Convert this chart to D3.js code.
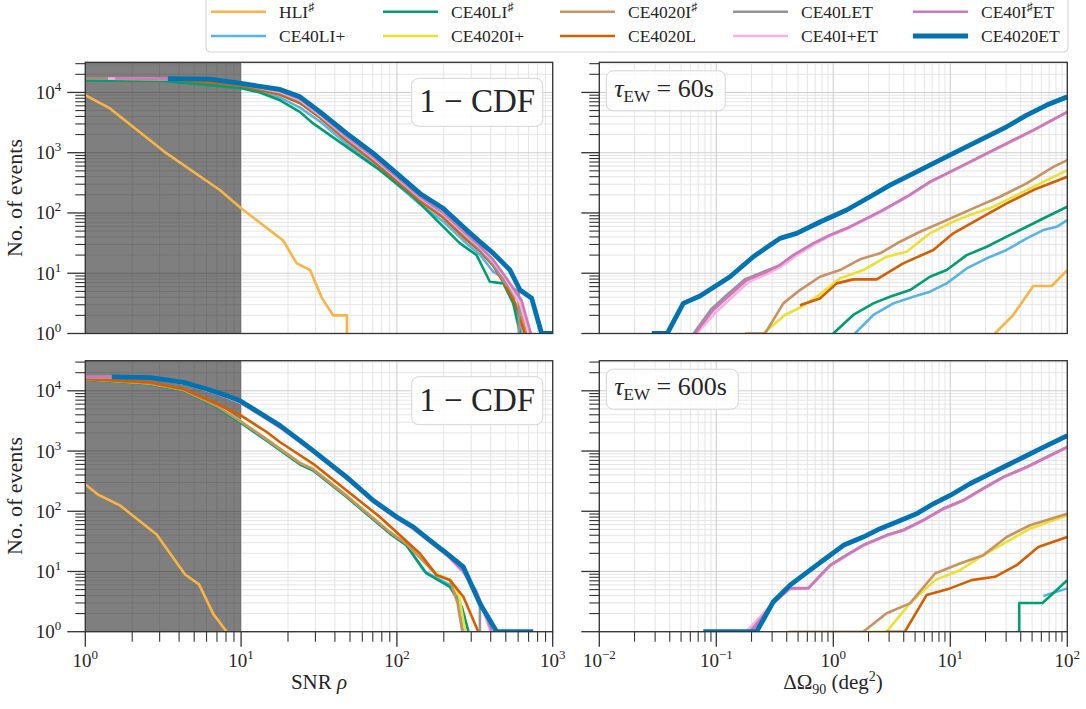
<!DOCTYPE html>
<html><head><meta charset="utf-8">
<script src="https://cdn.jsdelivr.net/npm/d3@7"></script>
<style>
body{margin:0;background:#fff}
svg{display:block}
text{font-family:"Liberation Serif","Times New Roman",serif;fill:#262626}
</style>
</head><body>
<svg id="c" width="1086" height="709"></svg>
<script>
// ---------------- series ----------------
const seriesNames = ["HLI♯","CE40LI+","CE40LI♯","CE4020I+","CE4020I♯","CE4020L","CE40LET","CE40I+ET","CE40I♯ET","CE4020ET"];
const seriesColors = ["#f9b444","#56b4e9","#029e73","#ece133","#ca9161","#d55e00","#949494","#fbafe4","#cc78bc","#0173b2"];
const seriesWidths = [2.6,2.6,2.6,2.6,2.6,2.6,2.6,2.6,2.6,4.8];

// ---------------- tick labels ----------------
const snrTickExps = [0,1,2,3];
const areaTickExps = [-2,-1,0,1,2];
const countTickExps = [0,1,2,3,4];

// ---------------- top-left: 1-CDF vs SNR (tau=60s) ----------------
const tlHLI   = [[1,9000],[1.44,5430],[3.33,973],[7.3,240],[10,120],[18.6,35],[22.7,14.7],[27.7,11.3],[33,3.9],[39,2],[47.8,2],[47.8,1]];
const tlLIp   = [[1,16500],[6.31,15500],[10,12300],[17.8,8200],[23.9,5600],[32.1,3300],[47.6,1400],[70.6,640],[99.8,300],[140.6,140],[198.6,72],[280.5,31],[341,20.5],[416,10.5],[501,8],[560,4],[630,1]];
const tlLIs   = [[1,15850],[3.16,15500],[6.31,13200],[10,11750],[13.2,10000],[17.8,7410],[23.8,4760],[29,3060],[47.6,1250],[77.8,514],[127.6,186],[179.9,76.2],[254,31.3],[325,20],[395,7.23],[482,6.79],[558,3.16],[617,1]];
const tl20Ip  = [[1,17000],[6.31,16200],[10,13300],[17.8,9600],[23.9,7000],[32.1,4000],[47.6,1680],[70.6,770],[99.8,360],[140.6,168],[198.6,90],[280.5,39],[341,25],[416,14.8],[501,8],[630,3],[716,1]];
const tl20Is  = [[1,17000],[6.31,16200],[10,13200],[17.8,9500],[23.9,6900],[32.1,3950],[47.6,1650],[70.6,760],[99.8,355],[140.6,165],[198.6,88],[280.5,38],[341,24.5],[416,14.5],[501,7.5],[600,3.5],[676,1]];
const tl20L   = [[1,17000],[3.16,16600],[6.31,14800],[10,12900],[17.8,9120],[23.9,6610],[32.1,3800],[47.6,1580],[70.6,724],[99.8,339],[140.6,158],[198.6,83.2],[280.5,35.5],[341,23.4],[416,13.2],[501,6.03],[575,3.16],[661,1]];
const tlLET   = [[1,17000],[6.31,16400],[10,13500],[17.8,9900],[23.9,7200],[32.1,4050],[47.6,1720],[70.6,790],[99.8,370],[140.6,172],[198.6,92],[280.5,40],[341,25],[416,14],[501,6.5],[607,5],[607,1]];
const tlIpET  = [[1.4,17000],[6.31,16500],[10,13800],[17.8,10200],[23.9,7500],[32.1,4200],[47.6,1800],[70.6,820],[99.8,385],[140.6,180],[198.6,96],[280.5,42],[341,27],[416,15.5],[501,8],[617,3.2],[708,1]];
const tlIsET  = [[1.55,17000],[6.31,16600],[10,14100],[17.8,10500],[23.9,7760],[32.1,4370],[47.6,1860],[70.6,851],[99.8,398],[140.6,186],[198.6,100],[280.5,43.7],[341,28.2],[416,16.6],[501,8.51],[631,3.55],[724,1]];
const tl20ET  = [[3.39,17000],[6.31,16600],[10,14100],[13.2,12600],[17.8,11200],[23.9,8450],[32.1,4760],[47.6,2090],[70.6,973],[99.8,454],[140.6,211],[198.6,119],[280.5,52],[341,33.3],[416,21.4],[532,11.3],[617,5.26],[733,3.84],[849,1],[1000,1]];

// ---------------- top-right: events vs sky area (tau=60s) ----------------
const trHLI   = [[24.1,1],[34.5,2.03],[51.2,6.14],[73.5,6.14],[100,11.3]];
const trLIp   = [[1.53,1],[2.2,2.03],[3.26,3.16],[4.83,4.07],[6.7,4.94],[9.31,6.79],[13.8,12],[20.5,17.7],[30.3,24.3],[45,37.9],[62.4,52],[81.1,59],[100,76.2]];
const trLIs   = [[1,1],[1.48,2.03],[2.2,3.16],[3.05,4.07],[4.53,5.26],[6.7,8.75],[9.31,11.3],[13.8,20],[20.5,27.5],[30.3,40.4],[45,59],[66.7,86.5],[100,127]];
const tr20Ip  = [[0.252,1],[0.386,2.03],[0.537,2.78],[0.769,4.47],[1.14,8.22],[1.81,11.3],[2.86,18.8],[4.24,22.8],[6.7,45.9],[10.6,71.8],[14.7,92.3],[23.3,127],[39.4,211],[62.4,329],[100,514]];
const tr20Is  = [[0.176,1],[0.261,1],[0.374,3.16],[0.519,5.26],[0.769,8.75],[1.14,11.3],[1.69,17],[2.51,21.4],[3.72,33.3],[5.51,48.8],[9.31,76.2],[15.7,119],[26.6,186],[45,309],[76,583],[100,753]];
const tr20L   = [[0.519,2.95],[0.769,3.8],[1.07,6.79],[1.48,7.91],[2.35,7.91],[3.96,14.6],[7.16,24.3],[10.6,45.9],[17.9,81.3],[30.3,144],[51.2,240],[100,398]];
const trLET   = [[0.064,1],[0.09,2.5],[0.125,4.5],[0.175,7.9],[0.26,10.8],[0.35,13.5],[0.455,19.8],[0.675,31],[0.938,42.5],[1.3,55],[2.51,104],[4.24,184],[6.7,326],[12.1,578],[20.5,965],[32.4,1510],[51.2,2350],[100,4730]];
const trIpET  = [[0.068,1],[0.1,2.3],[0.14,4.2],[0.19,7.2],[0.28,10],[0.36,13],[0.47,19],[0.69,30],[0.95,42],[1.3,54],[2.51,102],[4.24,182],[6.7,322],[12.1,570],[20.5,955],[32.4,1490],[51.2,2330],[100,4700]];
const trIsET  = [[0.0658,1],[0.0942,2.45],[0.131,4.36],[0.182,7.71],[0.27,10.6],[0.35,13.7],[0.455,20],[0.675,31.3],[0.938,43.1],[1.3,55.6],[2.51,105],[4.24,186],[6.7,329],[12.1,583],[20.5,973],[32.4,1520],[51.2,2370],[100,4760]];
const tr20ET  = [[0.0281,1],[0.0381,1],[0.0522,3.16],[0.0726,4.19],[0.131,8.75],[0.207,18.8],[0.35,37.9],[0.486,45.9],[0.769,70.8],[1.3,112],[2.06,186],[3.05,290],[4.53,425],[7.16,664],[10.6,973],[17.9,1620],[30.3,2690],[45,4210],[66.7,6170],[100,8450]];

// ---------------- bottom-left: 1-CDF vs SNR (tau=600s) ----------------
const blHLI   = [[1,279],[1.21,188],[1.67,125],[2.87,41.1],[4.37,8.91],[5.37,6.1],[6.64,1.96],[8.09,1]];
const blLIp   = [[1,15600],[2.6,13000],[4.27,10100],[6.98,5450],[9.84,3050],[14.6,1500],[23.9,610],[29,485],[47.6,175],[90.2,43],[115,27.5],[150,10],[219,6],[255,3],[270,1]];
const blLIs   = [[1,15500],[2.6,12900],[4.27,10000],[6.98,5370],[9.84,3000],[14.6,1480],[23.9,597],[29,475],[47.6,172],[90.2,42.6],[115,27.2],[155,9.27],[219,5.56],[261,2.59],[288,1]];
const bl20Ip  = [[1,15700],[2.6,13300],[4.27,10400],[6.98,5700],[9.84,3200],[14.6,1580],[23.9,640],[29,505],[47.6,182],[90.2,45.5],[115,29.5],[180,9],[219,7.4],[250,4],[275,1]];
const bl20Is  = [[1,15700],[2.6,13200],[4.27,10300],[6.98,5600],[9.84,3150],[14.6,1560],[23.9,630],[29,500],[47.6,180],[90.2,45],[115,29],[180,8.7],[219,7.2],[245,3],[263,1]];
const bl20L   = [[1,15700],[2.6,13800],[4.27,10700],[6.98,6100],[9.84,3980],[14.6,2070],[17.8,1400],[23.9,851],[29,614],[47.6,222],[77.8,80.2],[140.6,19.9],[180,8.69],[219,7.18],[267,3.8],[333,1]];
const blLET   = [[1,16800],[2.61,16200],[4.27,13300],[6.01,10200],[8.09,7900],[9.84,6400],[14.6,3400],[17.8,2450],[23.9,1400],[29,960],[47.6,345],[70.6,143],[99.8,76],[127.6,51],[163,31],[209,18.5],[267,10.5],[341,3.2],[341,1]];
const blIpET  = [[1,17000],[1.48,17000],[2.61,16300],[4.27,13300],[6.01,10200],[8.09,7900],[9.84,6400],[14.6,3400],[17.8,2450],[23.9,1400],[29,960],[47.6,345],[70.6,143],[99.8,76],[127.6,51],[163,31],[209,18.5],[267,9.5],[330,4],[400,1]];
const blIsET  = [[1,17000],[1.48,17000],[2.61,16400],[4.27,13500],[6.01,10300],[8.09,8000],[9.84,6500],[14.6,3450],[17.8,2500],[23.9,1420],[29,970],[47.6,350],[70.6,145],[99.8,77],[127.6,52],[163,31.5],[209,19],[267,10],[320,5],[370,2],[406,1]];
const bl20ET  = [[1.48,17100],[2.61,16600],[4.27,13800],[6.01,10700],[8.09,8320],[9.84,6850],[14.6,3630],[17.8,2640],[23.9,1490],[29,1019],[47.6,368],[70.6,151],[99.8,80.2],[127.6,54.7],[163,33],[209,19.9],[267,11.9],[341,2.95],[437,1],[750,1]];

// ---------------- bottom-right: events vs sky area (tau=600s) ----------------
const brHLI   = [];
const brLIp   = [[62.4,3.9],[100,5.24]];
const brLIs   = [[38.8,1],[38.8,3],[61.5,3],[100,7.18]];
const br20Ip  = [[2.0,1],[2.86,1],[4.52,2.95],[7.4,7.18],[12.1,10.5],[19.1,18.6],[30.3,30.9],[48,51.3],[100,85.5]];
const br20Is  = [[0.412,1],[1.8,1],[2.86,2.02],[4.52,2.95],[7.4,9.27],[12.1,13.6],[19.1,18.6],[30.3,37.4],[48,58.5],[100,91.2]];
const br20L   = [[2.82,1],[4.09,1],[6.27,4.06],[9.95,5.24],[15.2,7.18],[24.1,8.15],[36.9,12.7],[56.5,25.5],[100,37.4]];
const brLET   = [[0.2,1],[0.307,3],[0.427,5.3],[0.611,5.3],[0.938,12.7],[1.3,18.8],[1.8,27.5],[2.86,40.2],[3.96,48.8],[5.87,71.3],[8.71,111],[12.9,152],[19.1,240],[28.4,372],[45,545],[66.7,797],[100,1170]];
const brIpET  = [[0.18,1],[0.3,2.9],[0.427,5.1],[0.611,5.2],[0.938,12.3],[1.3,18.2],[1.8,26.8],[2.86,39],[3.96,47.5],[5.87,69.5],[8.71,108],[12.9,149],[19.1,233],[28.4,362],[45,532],[66.7,777],[100,1140]];
const brIsET  = [[0.194,1],[0.307,2.95],[0.427,5.24],[0.611,5.24],[0.938,12.6],[1.3,18.6],[1.8,27.2],[2.86,39.8],[3.96,48.3],[5.87,70.6],[8.71,110],[12.9,151],[19.1,237],[28.4,368],[45,540],[66.7,789],[100,1160]];
const br20ET  = [[0.0774,1],[0.221,1],[0.307,3.14],[0.427,5.93],[0.632,10.5],[0.938,18.6],[1.22,27.2],[1.8,37.3],[2.51,51.3],[3.48,66.1],[5.15,91],[7.16,133],[9.95,183],[14.7,286],[20.5,393],[30.3,575],[42.1,789],[58.5,1090],[100,1800]];

const tlData = [tlHLI,tlLIp,tlLIs,tl20Ip,tl20Is,tl20L,tlLET,tlIpET,tlIsET,tl20ET];
const trData = [trHLI,trLIp,trLIs,tr20Ip,tr20Is,tr20L,trLET,trIpET,trIsET,tr20ET];
const blData = [blHLI,blLIp,blLIs,bl20Ip,bl20Is,bl20L,blLET,blIpET,blIsET,bl20ET];
const brData = [brHLI,brLIp,brLIs,br20Ip,br20Is,br20L,brLET,brIpET,brIsET,br20ET];

const snrDomain = [1,1000];
const areaDomain = [0.01,100];
const countDomain = [1,31623];
const shadeRange = [1,10];

// ---------------- drawing ----------------
const svg = d3.select("#c");
const panels = [
  {id:"tl",x0:85.3,x1:552.7,y0:62.3,y1:333.5,xd:snrDomain,data:tlData,shade:true,xlab:false,ylab:true,note:"cdf"},
  {id:"tr",x0:599.3,x1:1067.3,y0:62.3,y1:333.5,xd:areaDomain,data:trData,shade:false,xlab:false,ylab:false,note:"60s"},
  {id:"bl",x0:85.3,x1:552.7,y0:360.7,y1:631.7,xd:snrDomain,data:blData,shade:true,xlab:true,ylab:true,note:"cdf"},
  {id:"br",x0:599.3,x1:1067.3,y0:360.7,y1:631.7,xd:areaDomain,data:brData,shade:false,xlab:true,ylab:false,note:"600s"}
];

function logTicks(dom){
  const lo=dom[0],hi=dom[1],major=[],minor=[];
  for(let e=Math.floor(Math.log10(lo)); e<=Math.ceil(Math.log10(hi)); e++){
    const b=Math.pow(10,e);
    if(b>=lo*0.999 && b<=hi*1.001) major.push(b);
    for(let m=2;m<=9;m++){const v=m*b; if(v>lo && v<hi) minor.push(v);}
  }
  return {major,minor};
}
function supText(sel, exp){
  sel.append("tspan").text("10");
  sel.append("tspan").attr("dy",-8).attr("font-size",13).text(exp<0?"\u2212"+(-exp):String(exp));
}

panels.forEach(p=>{
  const xs=d3.scaleLog().domain(p.xd).range([p.x0,p.x1]);
  const ys=d3.scaleLog().domain(countDomain).range([p.y1,p.y0]);
  const g=svg.append("g");
  const xt=logTicks(p.xd), yt=logTicks(countDomain);
  // grid
  const grid=g.append("g");
  xt.minor.forEach(v=>grid.append("line").attr("x1",xs(v)).attr("x2",xs(v)).attr("y1",p.y0).attr("y2",p.y1).attr("stroke","#e2e2e2").attr("stroke-width",0.9));
  yt.minor.forEach(v=>grid.append("line").attr("y1",ys(v)).attr("y2",ys(v)).attr("x1",p.x0).attr("x2",p.x1).attr("stroke","#e2e2e2").attr("stroke-width",0.9));
  xt.major.forEach(v=>grid.append("line").attr("x1",xs(v)).attr("x2",xs(v)).attr("y1",p.y0).attr("y2",p.y1).attr("stroke","#cfcfcf").attr("stroke-width",1.1));
  yt.major.forEach(v=>grid.append("line").attr("y1",ys(v)).attr("y2",ys(v)).attr("x1",p.x0).attr("x2",p.x1).attr("stroke","#cfcfcf").attr("stroke-width",1.1));
  // shade
  if(p.shade){
    g.append("rect").attr("x",xs(shadeRange[0])).attr("y",p.y0).attr("width",xs(shadeRange[1])-xs(shadeRange[0])).attr("height",p.y1-p.y0).attr("fill","#000").attr("fill-opacity",0.5);
  }
  // clip
  const cid="clip-"+p.id;
  svg.append("clipPath").attr("id",cid).append("rect").attr("x",p.x0).attr("y",p.y0).attr("width",p.x1-p.x0).attr("height",p.y1-p.y0);
  const lines=g.append("g").attr("clip-path","url(#"+cid+")");
  const line=d3.line().x(d=>xs(d[0])).y(d=>ys(d[1]));
  p.data.forEach((arr,i)=>{
    if(!arr.length) return;
    lines.append("path").attr("d",line(arr)).attr("fill","none").attr("stroke",seriesColors[i]).attr("stroke-width",seriesWidths[i]).attr("stroke-linejoin","round");
  });
  // frame
  g.append("rect").attr("x",p.x0).attr("y",p.y0).attr("width",p.x1-p.x0).attr("height",p.y1-p.y0).attr("fill","none").attr("stroke","#333").attr("stroke-width",1.3);
  // y ticks
  yt.major.forEach(v=>g.append("line").attr("x1",p.x0-18).attr("x2",p.x0).attr("y1",ys(v)).attr("y2",ys(v)).attr("stroke","#333").attr("stroke-width",1.3));
  yt.minor.forEach(v=>g.append("line").attr("x1",p.x0-10).attr("x2",p.x0).attr("y1",ys(v)).attr("y2",ys(v)).attr("stroke","#333").attr("stroke-width",1.1));
  if(p.ylab){
    countTickExps.forEach(e=>{
      const t=g.append("text").attr("x",p.x0-24).attr("y",ys(Math.pow(10,e))+6.5).attr("text-anchor","end").attr("font-size",19);
      supText(t,e);
    });
  }
  if(p.xlab){
    xt.major.forEach(v=>g.append("line").attr("x1",xs(v)).attr("x2",xs(v)).attr("y1",p.y1).attr("y2",p.y1+15).attr("stroke","#333").attr("stroke-width",1.3));
    xt.minor.forEach(v=>g.append("line").attr("x1",xs(v)).attr("x2",xs(v)).attr("y1",p.y1).attr("y2",p.y1+10).attr("stroke","#333").attr("stroke-width",1.1));
    const exps = p.xd===snrDomain?snrTickExps:areaTickExps;
    exps.forEach(e=>{
      const t=g.append("text").attr("x",xs(Math.pow(10,e))).attr("y",p.y1+35).attr("text-anchor","middle").attr("font-size",19);
      supText(t,e);
    });
  }
  // annotation
  if(p.note==="cdf"){
    const bx=p.x1-141, by=p.y0+16;
    g.append("rect").attr("x",bx).attr("y",by).attr("width",131).attr("height",48).attr("rx",7).attr("fill","#fff").attr("fill-opacity",0.85).attr("stroke","#d4d4d4").attr("stroke-width",1);
    g.append("text").attr("x",bx+65.5).attr("y",by+34).attr("text-anchor","middle").attr("font-size",33).text("1 \u2212 CDF");
  } else {
    const bx=p.x0+7, by=p.y0+8.5, w=(p.note==="60s"?119:132);
    g.append("rect").attr("x",bx).attr("y",by).attr("width",w).attr("height",40).attr("rx",7).attr("fill","#fff").attr("fill-opacity",0.85).attr("stroke","#d4d4d4").attr("stroke-width",1);
    const t=g.append("text").attr("x",bx+8).attr("y",by+26).attr("font-size",26);
    t.append("tspan").attr("font-style","italic").text("\u03c4");
    t.append("tspan").attr("font-size",17).attr("dy",5).text("EW");
    t.append("tspan").attr("dy",-5).text(" = "+p.note.replace("s",""));
    t.append("tspan").text("s");
  }
});

// axis labels
[198,496].forEach(cy=>{
  svg.append("text").attr("transform","translate(22,"+cy+") rotate(-90)").attr("text-anchor","middle").attr("font-size",22).text("No. of events");
});
const xl1=svg.append("text").attr("x",319).attr("y",689).attr("text-anchor","middle").attr("font-size",21);
xl1.append("tspan").text("SNR ");
xl1.append("tspan").attr("font-style","italic").text("\u03c1");
const xl2=svg.append("text").attr("x",833).attr("y",689).attr("text-anchor","middle").attr("font-size",21);
xl2.append("tspan").text("\u0394\u03a9");
xl2.append("tspan").attr("font-size",14).attr("dy",5).text("90");
xl2.append("tspan").attr("dy",-5).text(" (deg");
xl2.append("tspan").attr("font-size",14).attr("dy",-8).text("2");
xl2.append("tspan").attr("dy",8).text(")");

// legend
const leg=svg.append("g");
leg.append("rect").attr("x",206).attr("y",-4).attr("width",862).attr("height",56).attr("rx",4).attr("fill","#fff").attr("stroke","#d0d0d0").attr("stroke-width",1);
const colX=[211,383,560,733,913], rowY=[11.7,36];
seriesNames.forEach((name,i)=>{
  const cx=colX[Math.floor(i/2)], cy=rowY[i%2];
  leg.append("line").attr("x1",cx).attr("x2",cx+55).attr("y1",cy).attr("y2",cy).attr("stroke",seriesColors[i]).attr("stroke-width",seriesWidths[i]);
  const t=leg.append("text").attr("x",cx+68).attr("y",cy+6).attr("font-size",17.5);
  const parts=name.split("\u266f");
  parts.forEach((s,k)=>{
    if(k>0){ t.append("tspan").attr("font-size",12).attr("dy",-7).text("\u266f"); t.append("tspan").attr("dy",7).text(s||""); }
    else t.append("tspan").text(s);
  });
});
</script>
</body></html>
